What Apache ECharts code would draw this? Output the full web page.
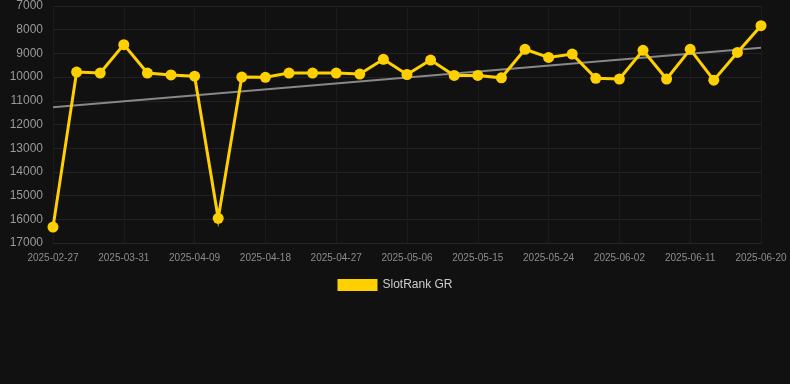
<!DOCTYPE html>
<html>
<head>
<meta charset="utf-8">
<script src="https://cdn.jsdelivr.net/npm/echarts@6/dist/echarts.min.js"></script>
<style>
  html, body { margin: 0; padding: 0; background: #111111; }
  #chart { width: 790px; height: 384px; }
</style>
</head>
<body>
<div id="chart"></div>
<script>
// dates (one point every few days)
const dates = [
  '2025-02-27', '2025-03-25', '2025-03-28', '2025-03-31', '2025-04-03', '2025-04-06',
  '2025-04-09', '2025-04-12', '2025-04-15', '2025-04-18', '2025-04-21', '2025-04-24',
  '2025-04-27', '2025-04-30', '2025-05-03', '2025-05-06', '2025-05-09', '2025-05-12',
  '2025-05-15', '2025-05-18', '2025-05-21', '2025-05-24', '2025-05-27', '2025-05-30',
  '2025-06-02', '2025-06-05', '2025-06-08', '2025-06-11', '2025-06-14', '2025-06-17',
  '2025-06-20'
];
// rank values
const rankGR = [
  16330, 9790, 9830, 8630, 9830, 9910,
  9960, 15960, 10000, 10010, 9830, 9830,
  9830, 9870, 9250, 9890, 9280, 9930,
  9930, 10030, 8830, 9170, 9030, 10050,
  10080, 8870, 10080, 8830, 10130, 8960,
  7830
];
// trend line ends
const trendIdx = [0, 30];
const trendVal = [11270, 8760];

let chart = echarts.init(document.getElementById('chart'));

chart.setOption({
  backgroundColor: '#111111',
  animation: false,
  grid: { left: 53, right: 29, top: 6, bottom: 141 },
  legend: {
    data: ['SlotRank GR'],
    bottom: 88,
    left: 'center',
    itemWidth: 40,
    itemHeight: 12,
    itemGap: 10,
    icon: 'rect',
    textStyle: { color: '#cccccc', fontSize: 12, fontFamily: 'Liberation Sans, Arial, sans-serif' }
  },
  xAxis: {
    type: 'category',
    data: dates,
    boundaryGap: false,
    axisLine: { lineStyle: { color: '#262626' } },
    axisTick: { show: false },
    axisLabel: {
      interval: 2,
      color: '#8c8c8c',
      fontSize: 10,
      margin: 10,
      fontFamily: 'Liberation Sans, Arial, sans-serif'
    },
    splitLine: { show: true, interval: 2, lineStyle: { color: '#1b1b1b' } }
  },
  yAxis: {
    type: 'value',
    inverse: true,
    min: 7000,
    max: 17000,
    interval: 1000,
    axisLine: { show: false },
    axisTick: { show: false },
    axisLabel: {
      color: '#999999',
      fontSize: 12,
      margin: 10,
      formatter: v => String(v),
      fontFamily: 'Liberation Sans, Arial, sans-serif'
    },
    splitLine: { lineStyle: { color: '#222222' } }
  },
  series: [
    {
      name: 'SlotRank GR',
      type: 'line',
      data: rankGR,
      symbol: 'circle',
      symbolSize: 11,
      itemStyle: { color: '#ffd000' },
      lineStyle: { color: '#ffd000', width: 3, join: 'miter' },
      z: 3
    },
    {
      name: 'trend',
      type: 'line',
      data: trendIdx.map((i, k) => [i, trendVal[k]]),
      symbol: 'none',
      lineStyle: { color: '#888888', width: 2 },
      z: 2
    }
  ]
});
</script>
</body>
</html>
